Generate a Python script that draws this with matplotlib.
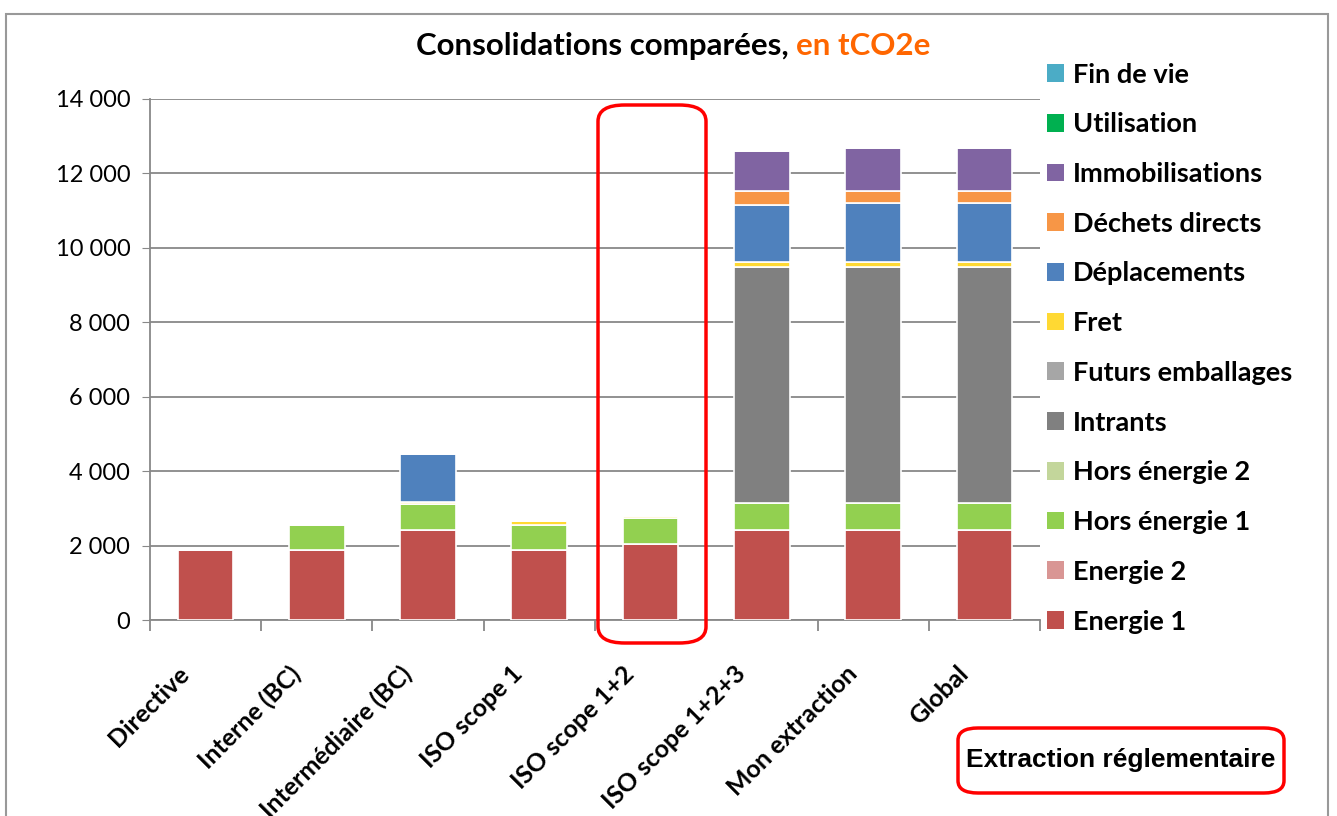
import matplotlib.pyplot as plt
import matplotlib.transforms as mtransforms
import numpy as np
from matplotlib.patches import FancyBboxPatch, Rectangle
from matplotlib.ticker import FuncFormatter

categories = ["Directive", "Interne (BC)", "Intermédiaire (BC)", "ISO scope 1",
              "ISO scope 1+2", "ISO scope 1+2+3", "Mon extraction", "Global"]

# stacked series, bottom to top
series_names = ["Energie 1", "Energie 2", "Hors énergie 1", "Hors énergie 2", "Intrants",
                "Futurs emballages", "Fret", "Déplacements", "Déchets directs",
                "Immobilisations", "Utilisation", "Fin de vie"]
energie_1 = [1890, 1890, 2410, 1890, 2035, 2410, 2410, 2410]
energie_2 = [0, 0, 0, 0, 0, 0, 0, 0]
hors_energie_1 = [0, 655, 720, 655, 710, 735, 735, 735]
hors_energie_2 = [0, 0, 0, 0, 0, 0, 0, 0]
intrants = [0, 0, 0, 0, 0, 6335, 6335, 6335]
futurs_emballages = [0, 0, 0, 0, 0, 0, 0, 0]
fret = [0, 0, 50, 105, 45, 135, 135, 135]
deplacements = [0, 0, 1275, 0, 0, 1540, 1575, 1575]
dechets_directs = [0, 0, 0, 0, 0, 375, 345, 345]
immobilisations = [0, 0, 0, 0, 0, 1080, 1130, 1130]
utilisation = [0, 0, 0, 0, 0, 0, 0, 0]
fin_de_vie = [0, 0, 0, 0, 0, 0, 0, 0]

series_values = [energie_1, energie_2, hors_energie_1, hors_energie_2, intrants,
                 futurs_emballages, fret, deplacements, dechets_directs,
                 immobilisations, utilisation, fin_de_vie]
colors = ["#C0504D", "#D99694", "#92D050", "#C3D69B", "#808080", "#A6A6A6",
          "#FFD933", "#4F81BD", "#F79646", "#8064A2", "#00B050", "#4BACC6"]

plt.rcParams['font.family'] = ['Lato', 'DejaVu Sans']

fig = plt.figure(figsize=(13.37, 8.16), dpi=100)
ax = fig.add_axes([0.112, 0.24, 0.666, 0.639])

x = np.arange(len(categories))
bottom = np.zeros(len(categories))
handles = []
for name, vals, col in zip(series_names, series_values, colors):
    vals = np.array(vals, dtype=float)
    ax.bar(x, vals, 0.5, bottom=bottom, color=col, edgecolor="white", linewidth=1.2, zorder=3)
    bottom += vals
    handles.append(Rectangle((0, 0), 1, 1, facecolor=col, edgecolor="none"))

ax.set_xlim(-0.5, len(categories) - 0.5)
ax.set_ylim(0, 14000)
ax.set_yticks(np.arange(0, 14001, 2000))
ax.yaxis.set_major_formatter(FuncFormatter(lambda v, p: f"{int(v):,}".replace(",", " ")))
ax.grid(axis="y", color="#888888", linewidth=1.3, zorder=0)
for s in ["top", "right"]:
    ax.spines[s].set_visible(False)
for s in ["left", "bottom"]:
    ax.spines[s].set_color("#888888")
    ax.spines[s].set_linewidth(1.3)
ax.tick_params(axis="y", labelsize=17, length=6, color="#888888", pad=8)
ax.set_xticks(x)
ax.set_xticklabels(categories, rotation=45, ha="right", va="center", rotation_mode="anchor",
                   fontsize=18, fontweight="bold")
ax.tick_params(axis="x", length=0, pad=36)
shift = mtransforms.ScaledTranslation(-0.20, 0, fig.dpi_scale_trans)
for lab in ax.get_xticklabels():
    lab.set_transform(lab.get_transform() + shift)
# category separator ticks
ax.set_xticks(np.arange(-0.5, len(categories), 1), minor=True)
ax.tick_params(axis="x", which="minor", length=8, color="#888888", width=1.3)

# title in two colours
fig.text(796 / 1337, 0.944, "Consolidations comparées, ", ha="right", va="center",
         fontsize=22.5, fontweight="bold", color="black")
fig.text(796 / 1337, 0.944, "en tCO2e", ha="left", va="center",
         fontsize=22.5, fontweight="bold", color="#FF6600")

leg = fig.legend(handles[::-1], series_names[::-1], loc="upper left",
                 bbox_to_anchor=(0.773, 0.940), frameon=False, borderpad=0,
                 prop={"size": 19.5, "weight": "bold"}, handlelength=0.63,
                 handleheight=0.63, labelspacing=0.95, handletextpad=0.33)

# red highlight boxes
fig.patches.append(FancyBboxPatch((598 / 1337, 1 - 643 / 816), 108 / 1337, 538 / 816,
                                  boxstyle="round,pad=0,rounding_size=0.02",
                                  transform=fig.transFigure, fill=False,
                                  edgecolor="red", linewidth=2.5))
fig.patches.append(FancyBboxPatch((958 / 1337, 1 - 793 / 816), 326 / 1337, 65 / 816,
                                  boxstyle="round,pad=0,rounding_size=0.015",
                                  transform=fig.transFigure, fill=False,
                                  edgecolor="red", linewidth=2.5))
fig.text(1121 / 1337, 1 - 760 / 816, "Extraction réglementaire", ha="center", va="center",
         fontsize=19, fontweight="bold", family="Liberation Sans")

# outer chart border
fig.patches.append(Rectangle((6 / 1337, -0.05), 1322 / 1337, 1.04 - 6 / 816,
                             transform=fig.transFigure, fill=False,
                             edgecolor="#999999", linewidth=1.5))

plt.savefig("out.png", dpi=100)
